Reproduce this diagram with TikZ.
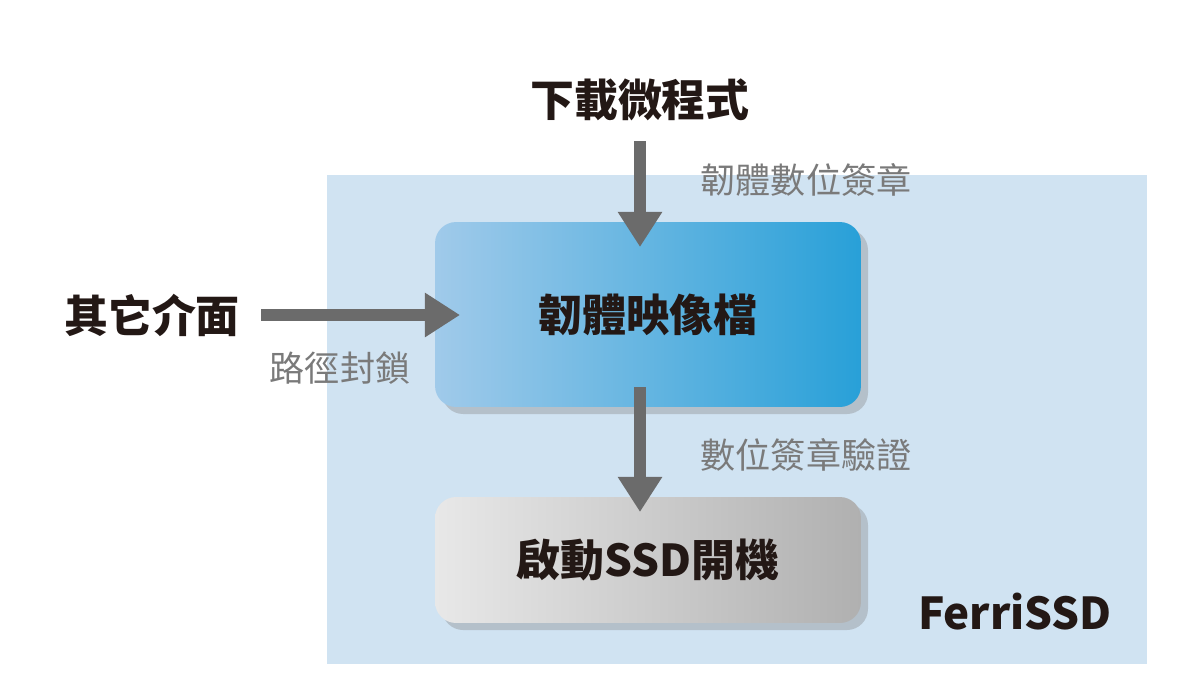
\documentclass[tikz,border=0pt]{standalone}
\usepackage{fontspec}
\setmainfont{Noto Sans CJK TC}
\usetikzlibrary{positioning,shadows,arrows.meta}
\definecolor{panel}{HTML}{D0E3F2}
\definecolor{arrowgray}{HTML}{6B6B6B}
\definecolor{labelgray}{HTML}{7A7A7A}
\definecolor{titleblack}{HTML}{231815}
\begin{document}
\begin{tikzpicture}[x=0.02cm,y=-0.02cm,
	main/.style={rectangle, rounded corners=12pt, minimum width=8.52cm, minimum height=3.7cm, font=\fontsize{25}{30}\selectfont\bfseries, text=titleblack, drop shadow={opacity=0.35, shadow xshift=4pt, shadow yshift=-4pt}},
	title/.style={font=\fontsize{25}{30}\selectfont\bfseries, text=titleblack},
	note/.style={font=\fontsize{20}{24}\selectfont, text=labelgray},
	flow/.style={-{Triangle[length=20pt,width=24pt]}, line width=7pt, draw=arrowgray}
	]
	\useasboundingbox (0,0) rectangle (1195,686);

	\fill[panel] (327,175) rectangle (1147,664);

	\node (image) [main, shading angle=110, left color={rgb,255:red,160;green,202;blue,234}, right color={rgb,255:red,40;green,160;blue,216}] at (648,314.5) {韌體映像檔};
	\node (boot) [main, minimum height=2.52cm, left color={rgb,255:red,232;green,232;blue,232}, right color={rgb,255:red,176;green,176;blue,176}] at (648,560) {啟動SSD開機};

	\node (download) [title] at (640,100) {下載微程式};
	\node (other) [title] at (152,315) {其它介面};
	\node (ferri) [title] at (1015,612) {FerriSSD};

	\node (sign) [note] at (806,180) {韌體數位簽章};
	\node (block) [note] at (340,368) {路徑封鎖};
	\node (verify) [note] at (806,455) {數位簽章驗證};

	\coordinate (dlend) at (640,247);
	\coordinate (otherend) at (460,315);
	\coordinate (bootend) at (640,512);

	\draw [flow] (download.south)++(0,14) -- (dlend);
	\draw [flow] (other.east)++(15,0) -- (otherend);
	\draw [flow] (image.south -| dlend)++(0,-20) -- (bootend);
\end{tikzpicture}
\end{document}
